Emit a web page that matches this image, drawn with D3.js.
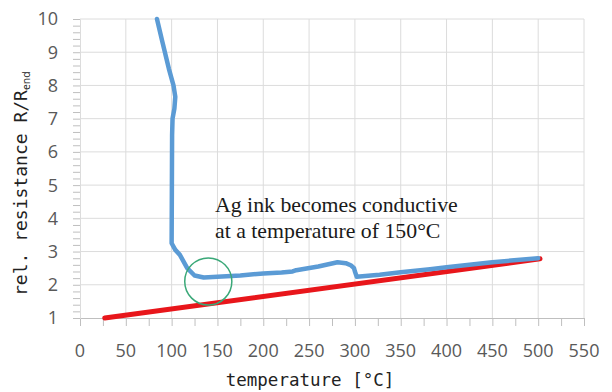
<!DOCTYPE html>
<html>
<head>
<meta charset="utf-8">
<script src="https://cdn.jsdelivr.net/npm/d3@7"></script>
<style>
  body { margin: 0; background: #fff; }
</style>
</head>
<body>
<div id="chart"></div>
<script>
// measured curve (temperature in °C, relative resistance)
var blueTemp = [84, 90, 97, 102, 104, 103, 101, 100.5, 100, 104, 109, 117, 125, 135, 150, 175, 200, 220, 232, 236, 260, 281, 290, 296, 299, 300, 302, 327, 350, 382, 400, 450, 500];
var blueVal  = [10, 9.3, 8.5, 8.0, 7.66, 7.3, 7.0, 6.5, 3.25, 3.05, 2.9, 2.5, 2.28, 2.22, 2.24, 2.28, 2.34, 2.37, 2.4, 2.44, 2.55, 2.68, 2.65, 2.58, 2.5, 2.4, 2.24, 2.3, 2.38, 2.47, 2.53, 2.68, 2.8];

// reference line
var redTemp = [27, 502];
var redVal  = [1.0, 2.78];

var xTicks = [0, 50, 100, 150, 200, 250, 300, 350, 400, 450, 500, 550];
var yTicks = [1, 2, 3, 4, 5, 6, 7, 8, 9, 10];

var circleCenter = [140, 2.1];
var circleRadius = 25.7; // in °C units
var noteLines = ["Ag ink becomes conductive", "at a temperature of 150°C"];

var W = 612, H = 392;
var margin = { top: 19, left: 80, right: 28, bottom: 74 };
var width = W - margin.left - margin.right,
    height = H - margin.top - margin.bottom;

var svg = d3.select("#chart").append("svg")
    .attr("width", W)
    .attr("height", H);

var g = svg.append("g")
    .attr("transform", "translate(" + margin.left + "," + margin.top + ")");

var x = d3.scaleLinear().domain([0, 550]).range([0, width]);
var y = d3.scaleLinear().domain([1, 10]).range([height, 0]);

// gridlines
g.selectAll(".vgrid")
    .data(xTicks.slice(1))
    .enter().append("line")
    .attr("x1", d => x(d)).attr("x2", d => x(d))
    .attr("y1", 0).attr("y2", height)
    .attr("stroke", "#dcdcdc").attr("stroke-width", 1);

g.selectAll(".hgrid")
    .data(yTicks.slice(1))
    .enter().append("line")
    .attr("x1", 0).attr("x2", width)
    .attr("y1", d => y(d)).attr("y2", d => y(d))
    .attr("stroke", "#dcdcdc").attr("stroke-width", 1);

// x axis: labels + minor ticks every 25
var xAxis = d3.axisBottom(x).tickValues(d3.range(0, 551, 25)).tickSize(8).tickFormat("");
var gx = g.append("g").attr("transform", "translate(0," + height + ")").call(xAxis);
gx.select(".domain").attr("stroke", "#bfbfbf");
gx.selectAll(".tick line").attr("stroke", "#bfbfbf");

g.selectAll(".xlab")
    .data(xTicks)
    .enter().append("text")
    .attr("x", d => x(d))
    .attr("y", height + 39)
    .attr("text-anchor", "middle")
    .attr("font-family", "Open Sans, sans-serif")
    .attr("font-size", 18)
    .attr("fill", "#595959")
    .text(d => d);

// y axis: minor ticks every 0.2
var yAxis = d3.axisLeft(y).tickValues(d3.range(1, 10.01, 0.2)).tickSize(7).tickFormat("");
var gy = g.append("g").call(yAxis);
gy.select(".domain").attr("stroke", "#dcdcdc");
gy.selectAll(".tick line").attr("stroke", "#bfbfbf");

g.selectAll(".ylab")
    .data(yTicks)
    .enter().append("text")
    .attr("x", -22)
    .attr("y", d => y(d))
    .attr("dy", "0.36em")
    .attr("text-anchor", "end")
    .attr("font-family", "Open Sans, sans-serif")
    .attr("font-size", 18)
    .attr("fill", "#595959")
    .text(d => d);

// red line
var line = d3.line().x(d => x(d[0])).y(d => y(d[1]));
g.append("path")
    .datum(d3.zip(redTemp, redVal))
    .attr("d", line)
    .attr("fill", "none")
    .attr("stroke", "#e8161b")
    .attr("stroke-width", 5)
    .attr("stroke-linecap", "round");

// blue curve
g.append("path")
    .datum(d3.zip(blueTemp, blueVal))
    .attr("d", line)
    .attr("fill", "none")
    .attr("stroke", "#5b9bd5")
    .attr("stroke-width", 4.5)
    .attr("stroke-linejoin", "round")
    .attr("stroke-linecap", "round");

// green circle marker
g.append("circle")
    .attr("cx", x(circleCenter[0]))
    .attr("cy", y(circleCenter[1]))
    .attr("r", x(circleRadius) - x(0))
    .attr("fill", "none")
    .attr("stroke", "#3aa878")
    .attr("stroke-width", 1.5);

// annotation
g.selectAll(".note")
    .data(noteLines)
    .enter().append("text")
    .attr("x", 135)
    .attr("y", (d, i) => 193 + i * 26)
    .attr("font-family", "Liberation Serif, serif")
    .attr("font-size", 21.8)
    .attr("fill", "#1a1a1a")
    .text(d => d);

// axis titles
svg.append("text")
    .attr("x", 310)
    .attr("y", 386)
    .attr("text-anchor", "middle")
    .attr("font-family", "DejaVu Sans Mono, monospace")
    .attr("font-size", 17.5)
    .attr("fill", "#222")
    .text("temperature [°C]");

var yt = svg.append("text")
    .attr("transform", "translate(27,296) rotate(-90)")
    .attr("text-anchor", "start")
    .attr("font-family", "DejaVu Sans Mono, monospace")
    .attr("font-size", 18)
    .attr("fill", "#222");
yt.append("tspan").text("rel. resistance R/R");
yt.append("tspan").attr("font-size", 10.5).attr("font-family", "Open Sans, sans-serif").attr("dy", 3).text("end");
</script>
</body>
</html>
